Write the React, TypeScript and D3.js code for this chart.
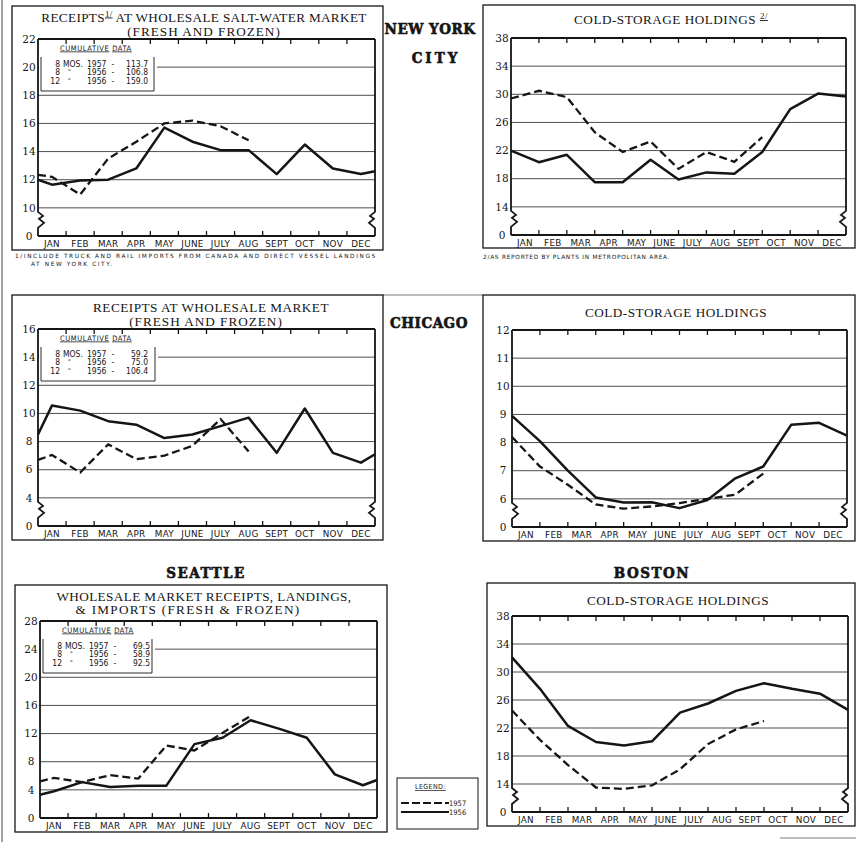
import React from "react";
import * as d3 from "d3";

// ---------- DATA ----------
const MONTHS = ["JAN", "FEB", "MAR", "APR", "MAY", "JUNE", "JULY", "AUG", "SEPT", "OCT", "NOV", "DEC"];

// New York receipts (monthly, plotted mid-month; first/last values are the chart-edge carry values)
const NYC_REC_TICKS = [0, 10, 12, 14, 16, 18, 20, 22];
const NYC_REC_1956 = [12.0, 11.65, 11.95, 12.0, 12.8, 15.7, 14.7, 14.1, 14.1, 12.4, 14.5, 12.8, 12.4, 12.6];
const NYC_REC_1957 = [12.35, 12.2, 10.95, 13.5, 14.7, 16.0, 16.2, 15.8, 14.8];
const NYC_REC_CUM = [
  ["8", "MOS.", "1957", "113.7"],
  ["8", "\"", "1956", "106.8"],
  ["12", "\"", "1956", "159.0"],
];

// New York cold storage (plotted at month boundaries)
const NYC_COLD_TICKS = [0, 14, 18, 22, 26, 30, 34, 38];
const NYC_COLD_1956 = [22.0, 20.35, 21.4, 17.5, 17.5, 20.7, 17.9, 18.9, 18.7, 21.8, 27.9, 30.1, 29.7];
const NYC_COLD_1957 = [29.4, 30.5, 29.6, 24.6, 21.8, 23.3, 19.4, 21.8, 20.4, 23.9];

// Chicago receipts
const CHI_REC_TICKS = [0, 4, 6, 8, 10, 12, 14, 16];
const CHI_REC_1956 = [8.5, 10.57, 10.2, 9.45, 9.2, 8.25, 8.5, 9.1, 9.7, 7.2, 10.35, 7.2, 6.5, 7.1];
const CHI_REC_1957 = [6.7, 7.05, 5.8, 7.8, 6.75, 7.0, 7.7, 9.6, 7.3];
const CHI_REC_CUM = [
  ["8", "MOS.", "1957", "59.2"],
  ["8", "\"", "1956", "75.0"],
  ["12", "\"", "1956", "106.4"],
];

// Chicago cold storage
const CHI_COLD_TICKS = [0, 6, 7, 8, 9, 10, 11, 12];
const CHI_COLD_1956 = [8.95, 8.05, 7.0, 6.05, 5.87, 5.88, 5.67, 5.96, 6.73, 7.15, 8.63, 8.7, 8.25];
const CHI_COLD_1957 = [8.2, 7.15, 6.5, 5.8, 5.65, 5.73, 5.85, 6.0, 6.15, 6.9];

// Seattle receipts, landings & imports
const SEA_TICKS = [0, 4, 8, 12, 16, 20, 24, 28];
const SEA_1956 = [3.3, 3.8, 5.1, 4.4, 4.6, 4.6, 10.5, 11.4, 13.9, 12.7, 11.4, 6.2, 4.65, 5.4];
const SEA_1957 = [5.2, 5.7, 5.1, 6.1, 5.6, 10.3, 9.6, 12.1, 14.5];
const SEA_CUM = [
  ["8", "MOS.", "1957", "69.5"],
  ["8", "\"", "1956", "58.9"],
  ["12", "\"", "1956", "92.5"],
];

// Boston cold storage
const BOS_TICKS = [0, 14, 18, 22, 26, 30, 34, 38];
const BOS_1956 = [32.1, 27.6, 22.3, 20.0, 19.5, 20.1, 24.2, 25.5, 27.3, 28.4, 27.6, 26.9, 24.6];
const BOS_1957 = [24.5, 20.3, 16.7, 13.5, 13.3, 13.8, 16.1, 19.7, 21.8, 23.0];

const LEGEND_ITEMS = [
  { label: "1957", dashed: true },
  { label: "1956", dashed: false },
];

// ---------- STYLE ----------
const INK = "#151515";
const SERIF = "'Liberation Serif', 'Times New Roman', serif";
const YFONT = "'DejaVu Serif', serif";
const SANS = "'DejaVu Sans', sans-serif";
const COND = "'DejaVu Sans Condensed', 'DejaVu Sans', sans-serif";
const HEAVY = "'DejaVu Serif Condensed', 'DejaVu Serif', serif";

type TitleLine = { text: string; x: number; y: number; sup?: string; rest?: string; ls?: number };
type Cfg = {
  box: [number, number, number, number];
  L: number; R: number; T: number; B: number;
  ticks: number[];
  broken: boolean;
  mode: "mid" | "edge";
  s56: number[];
  s57: number[];
  titles: TitleLine[];
  cum?: string[][];
  cumW?: number;
  foot?: { text: string; x: number; y: number; ls: number }[];
};

function Panel({ cfg }: { cfg: Cfg }) {
  const { box, L, R, T, B, ticks, broken, mode, s56, s57, titles, cum, cumW = 116, foot } = cfg;
  const lo = broken ? ticks[1] - (ticks[2] - ticks[1]) : ticks[0];
  const y = d3.scaleLinear().domain([lo, ticks[ticks.length - 1]]).range([B, T]);
  const x = d3.scaleLinear().domain([0, 12]).range([L, R]);
  const pos = (i: number) => (mode === "mid" ? (i === 0 ? 0 : i === 13 ? 12 : i - 0.5) : i);
  const line = d3.line<number>().x((_d, i) => x(pos(i))).y((d) => y(d));
  const tickPos = (t: number, i: number) => (broken && i === 0 ? y(lo) : y(t));
  const gridVals = ticks.slice(1, ticks.length - 1);
  const bounds = d3.range(1, 12);
  const yg = broken ? y(ticks[1]) : 0;

  const leftPath = broken
    ? `M${L},${T} V${yg + 4} L${L + 5},${yg + 8} L${L + 1},${yg + 11} L${L + 6},${yg + 15} L${L},${yg + 20} V${B}`
    : `M${L},${T} V${B}`;
  const rightPath = broken
    ? `M${R},${T} V${yg + 4} L${R - 5},${yg + 8} L${R - 1},${yg + 11} L${R - 6},${yg + 15} L${R},${yg + 20} V${B}`
    : `M${R},${T} V${B}`;

  return (
    <g>
      <rect x={box[0]} y={box[1]} width={box[2]} height={box[3]} fill="none" stroke={INK} strokeWidth={1.3} />
      {titles.map((t, i) => (
        <text key={i} x={t.x} y={t.y} textAnchor="middle" fontFamily={SERIF} fontSize={13.2} fill={INK} letterSpacing={t.ls ?? 0.5}>
          {t.text}
          {t.sup ? (
            <tspan fontSize={9} dy={-5} textDecoration="underline">{t.sup}</tspan>
          ) : null}
          {t.rest ? <tspan dy={5}>{t.rest}</tspan> : null}
        </text>
      ))}
      {/* grid */}
      {gridVals.map((v) => (
        <line key={v} x1={L} x2={R} y1={y(v)} y2={y(v)} stroke="#3a3a3a" strokeWidth={0.9} />
      ))}
      {/* cumulative box */}
      {cum ? (
        <g>
          <rect x={L + 1} y={T + 1} width={cumW + 2} height={51} fill="#fff" />
          <path d={`M${L + 3},${T + 18} V${T + 52} H${L + cumW} V${T + 18}`} fill="none" stroke={INK} strokeWidth={0.9} />
          <text x={L + 22} y={T + 11.5} fontFamily={COND} fontSize={7.5} fill={INK} letterSpacing={0.6}>
            <tspan textDecoration="underline">CUMULATIVE</tspan>
            <tspan> </tspan>
            <tspan textDecoration="underline">DATA</tspan>
          </text>
          {cum.map((r, i) => {
            const yy = T + 27.5 + i * 8.5;
            return (
              <g key={i} fontFamily={COND} fontSize={8.5} fill={INK}>
                <text x={L + 22} y={yy} textAnchor="end">{r[0]}</text>
                {i === 0 ? (
                  <text x={L + 25} y={yy}>{r[1]}</text>
                ) : (
                  <text x={L + 30} y={yy - 1} fontSize={6.5}>{r[1]}</text>
                )}
                <text x={L + 49} y={yy}>{r[2]}</text>
                <text x={L + 75} y={yy} textAnchor="middle">-</text>
                <text x={L + 110} y={yy} textAnchor="end">{r[3]}</text>
              </g>
            );
          })}
        </g>
      ) : null}
      {/* frame */}
      <line x1={L} x2={R} y1={T} y2={T} stroke={INK} strokeWidth={1.8} />
      <line x1={L} x2={R} y1={B} y2={B} stroke={INK} strokeWidth={1.8} />
      <path d={leftPath} fill="none" stroke={INK} strokeWidth={1.8} />
      <path d={rightPath} fill="none" stroke={INK} strokeWidth={1.8} />
      {bounds.map((k) => (
        <g key={k}>
          <line x1={x(k)} x2={x(k)} y1={T} y2={T + 5} stroke={INK} strokeWidth={1.3} />
          <line x1={x(k)} x2={x(k)} y1={B} y2={B - 5} stroke={INK} strokeWidth={1.3} />
        </g>
      ))}
      {/* y labels */}
      {ticks.map((t, i) => (
        <text key={t} x={L - 9} y={tickPos(t, i)} dy="0.36em" textAnchor="middle" fontFamily={YFONT} fontSize={10.5} fill={INK}>
          {t}
        </text>
      ))}
      {/* x labels */}
      {MONTHS.map((m, i) => (
        <text key={m} x={x(i + 0.5)} y={B + 10.5} textAnchor="middle" fontFamily={SANS} fontSize={8.8} fill={INK} letterSpacing={0.3}>
          {m}
        </text>
      ))}
      {/* series */}
      <path d={line(s56) || ""} fill="none" stroke={INK} strokeWidth={2.5} strokeLinejoin="round" />
      <path d={line(s57) || ""} fill="none" stroke={INK} strokeWidth={2.3} strokeDasharray="8 4" />
      {foot
        ? foot.map((f, i) => (
            <text key={i} x={f.x} y={f.y} fontFamily={SANS} fontSize={5.8} fill={INK} letterSpacing={f.ls}>
              {f.text}
            </text>
          ))
        : null}
    </g>
  );
}

const PANELS: Cfg[] = [
  {
    box: [12, 6, 371, 244], L: 38, R: 375, T: 39, B: 236,
    ticks: NYC_REC_TICKS, broken: true, mode: "mid", s56: NYC_REC_1956, s57: NYC_REC_1957,
    titles: [
      { text: "RECEIPTS", x: 204, y: 21.5, sup: "1/", rest: " AT WHOLESALE SALT-WATER MARKET", ls: 0.35 },
      { text: "(FRESH AND FROZEN)", x: 204, y: 35.5, ls: 1 },
    ],
    cum: NYC_REC_CUM, cumW: 116,
    foot: [
      { text: "1/INCLUDE TRUCK AND RAIL IMPORTS FROM CANADA AND DIRECT VESSEL LANDINGS", x: 15, y: 258, ls: 1.6 },
      { text: "AT NEW YORK CITY.", x: 31, y: 266, ls: 1.6 },
    ],
  },
  {
    box: [483, 5, 372, 243], L: 511, R: 846, T: 38, B: 235,
    ticks: NYC_COLD_TICKS, broken: true, mode: "edge", s56: NYC_COLD_1956, s57: NYC_COLD_1957,
    titles: [{ text: "COLD-STORAGE HOLDINGS ", x: 671, y: 24, sup: "2/" }],
    foot: [{ text: "2/AS REPORTED BY PLANTS IN METROPOLITAN AREA.", x: 483, y: 259, ls: 0.75 }],
  },
  {
    box: [12, 295, 371, 245], L: 38, R: 375, T: 329, B: 526,
    ticks: CHI_REC_TICKS, broken: true, mode: "mid", s56: CHI_REC_1956, s57: CHI_REC_1957,
    titles: [
      { text: "RECEIPTS AT WHOLESALE MARKET", x: 211, y: 311.5 },
      { text: "(FRESH AND FROZEN)", x: 206, y: 325.5, ls: 1 },
    ],
    cum: CHI_REC_CUM, cumW: 117,
  },
  {
    box: [483, 295, 372, 246], L: 512, R: 847, T: 330, B: 527,
    ticks: CHI_COLD_TICKS, broken: true, mode: "edge", s56: CHI_COLD_1956, s57: CHI_COLD_1957,
    titles: [{ text: "COLD-STORAGE HOLDINGS", x: 676, y: 317 }],
  },
  {
    box: [15, 585, 372, 247], L: 40, R: 377, T: 621, B: 818,
    ticks: SEA_TICKS, broken: false, mode: "mid", s56: SEA_1956, s57: SEA_1957,
    titles: [
      { text: "WHOLESALE MARKET RECEIPTS, LANDINGS,", x: 204, y: 600.5, ls: 0.4 },
      { text: "& IMPORTS (FRESH & FROZEN)", x: 188, y: 614, ls: 1.3 },
    ],
    cum: SEA_CUM, cumW: 112,
  },
  {
    box: [487, 583, 368, 243], L: 512, R: 848, T: 616, B: 812,
    ticks: BOS_TICKS, broken: true, mode: "edge", s56: BOS_1956, s57: BOS_1957,
    titles: [{ text: "COLD-STORAGE HOLDINGS", x: 678, y: 605 }],
  },
];

const REGIONS = [
  { text: "NEW YORK", x: 430, y: 34, ls: 0.5 },
  { text: "CITY", x: 436, y: 63, ls: 3 },
  { text: "CHICAGO", x: 429, y: 328, ls: 0.5 },
  { text: "SEATTLE", x: 206, y: 578, ls: 1.5 },
  { text: "BOSTON", x: 652, y: 578, ls: 1.5 },
];

export default function App() {
  return (
    <svg width={856} height={849} style={{ position: "absolute", left: 0, top: 0, background: "#fff" }}>
      <rect x={0} y={0} width={856} height={849} fill="#fff" />
      <line x1={2} x2={2} y1={0} y2={842} stroke="#444" strokeWidth={1} />
      <line x1={383} x2={483} y1={295} y2={295} stroke="#555" strokeWidth={0.8} />
      <line x1={780} x2={856} y1={838} y2={838} stroke="#555" strokeWidth={0.8} />
      {PANELS.map((p, i) => (
        <Panel key={i} cfg={p} />
      ))}
      {REGIONS.map((r) => (
        <text key={r.text} x={r.x} y={r.y} textAnchor="middle" fontFamily={HEAVY} fontWeight="bold" fontStretch="condensed" fontSize={15} fill={INK} stroke={INK} strokeWidth={0.6} letterSpacing={r.ls}>
          {r.text}
        </text>
      ))}
      {/* legend */}
      <g>
        <rect x={397} y={778} width={81} height={51} fill="none" stroke={INK} strokeWidth={1} />
        <text x={415} y={789} fontFamily={COND} fontSize={7} fill={INK} textDecoration="underline" letterSpacing={0.4}>LEGEND:</text>
        {LEGEND_ITEMS.map((it, i) => (
          <g key={it.label}>
            <line x1={401} x2={449} y1={803 + i * 9} y2={803 + i * 9} stroke={INK} strokeWidth={2.2} strokeDasharray={it.dashed ? "8 3" : undefined} />
            <text x={449} y={805.5 + i * 9} fontFamily={COND} fontSize={7.5} fill={INK}>{it.label}</text>
          </g>
        ))}
      </g>
    </svg>
  );
}
